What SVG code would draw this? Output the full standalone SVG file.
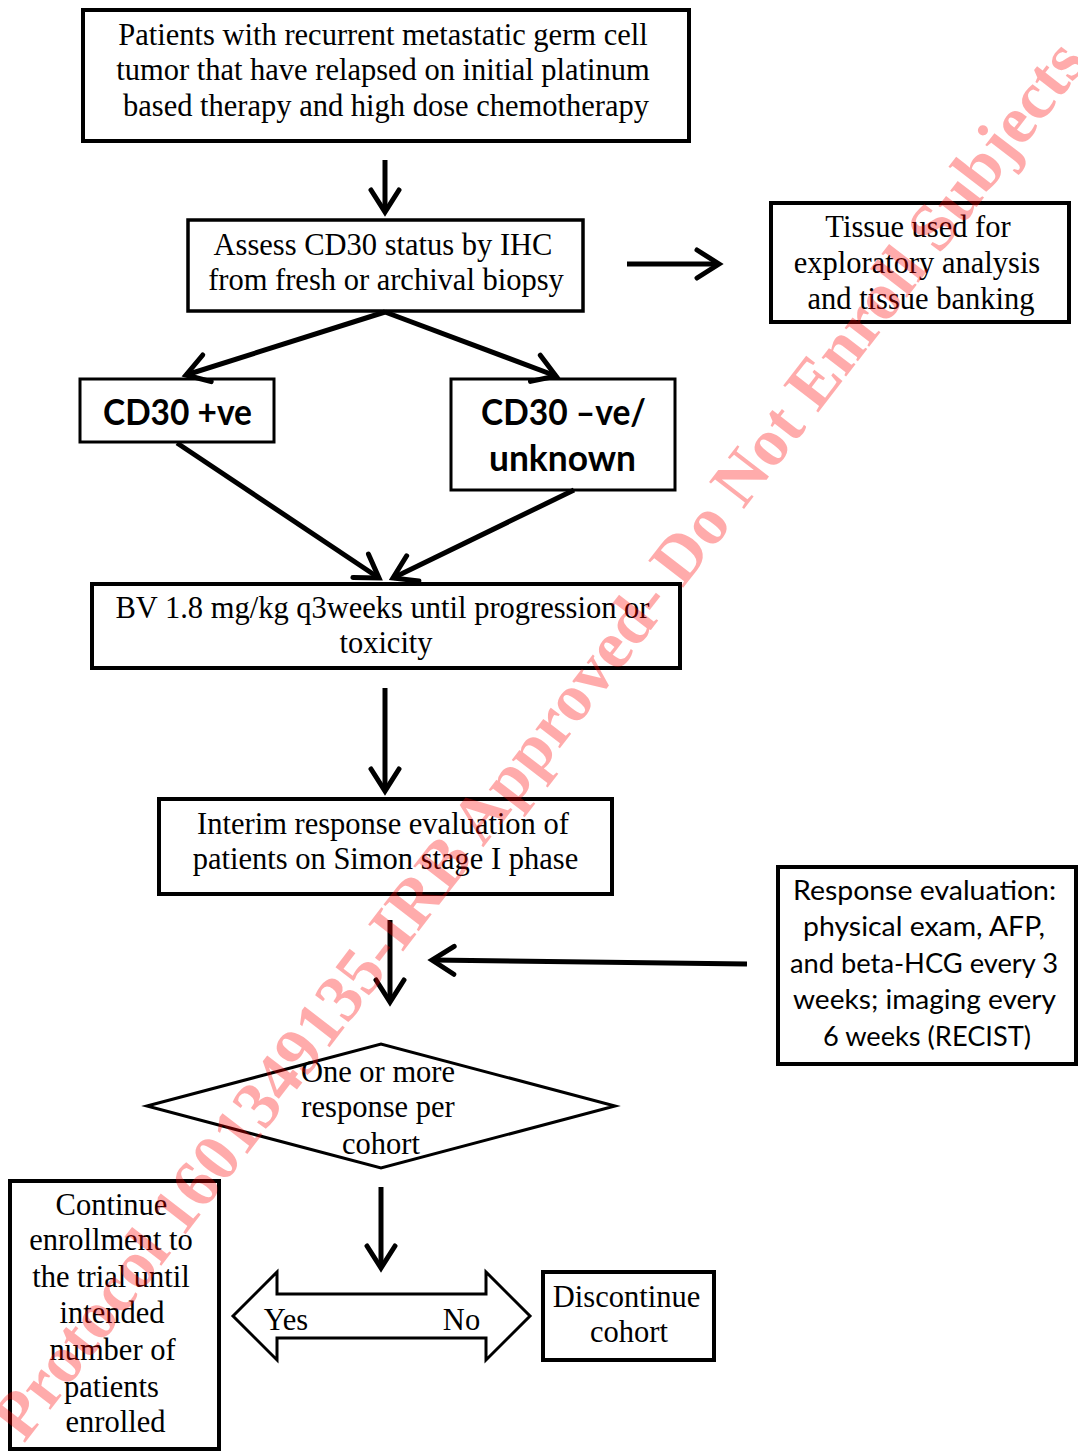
<svg xmlns="http://www.w3.org/2000/svg" width="1078" height="1452" viewBox="0 0 1078 1452">
<defs>
<style>
.box{fill:#fff;stroke:#000;stroke-width:4}
.t{font-family:"Liberation Serif","Times New Roman",serif;font-size:30.5px;fill:#000;text-anchor:middle}
.s{font-family:Lato,"Liberation Sans",sans-serif;font-size:26px;fill:#000;text-anchor:middle}
.b{font-family:Lato,"Liberation Sans",sans-serif;font-size:36px;font-weight:bold;fill:#000;text-anchor:middle}
.c{fill:none;stroke:#000;stroke-width:5;marker-end:url(#ah)}
.wm{font-family:"Liberation Serif","Times New Roman",serif;font-size:67.5px;font-weight:bold;fill:#ff0000;fill-opacity:0.33}
</style>
<marker id="ah" markerUnits="userSpaceOnUse" viewBox="-30 -20 36 40" markerWidth="36" markerHeight="40" refX="0" refY="0" orient="auto">
<path d="M-22,-14 L0,0 L-22,14" fill="none" stroke="#000" stroke-width="5" stroke-linecap="round" stroke-linejoin="miter"/>
</marker>
</defs>
<rect width="1078" height="1452" fill="#fff"/>

<g id="n1">
<rect class="box" x="83" y="10" width="606" height="131"/>
<text class="t" x="383" y="45">Patients with recurrent metastatic germ cell</text>
<text class="t" x="383" y="80">tumor that have relapsed on initial platinum</text>
<text class="t" x="386" y="116">based therapy and high dose chemotherapy</text>
</g>
<g id="n2">
<rect class="box" x="188" y="220" width="395" height="91" style="stroke-width:3.5"/>
<text class="t" x="383" y="255">Assess CD30 status by IHC</text>
<text class="t" x="386" y="290">from fresh or archival biopsy</text>
</g>
<g id="n3">
<rect class="box" x="771" y="203" width="298" height="119"/>
<text class="t" x="918" y="237">Tissue used for</text>
<text class="t" x="917" y="273">exploratory analysis</text>
<text class="t" x="921" y="309">and tissue banking</text>
</g>
<g id="n4">
<rect class="box" x="80" y="379" width="194" height="63" style="stroke-width:3"/>
<text class="b" x="177.5" y="425" textLength="149" lengthAdjust="spacingAndGlyphs">CD30 +ve</text>
</g>
<g id="n5">
<rect class="box" x="451" y="379" width="224" height="111" style="stroke-width:3"/>
<text class="b" x="563.5" y="425" textLength="165" lengthAdjust="spacingAndGlyphs">CD30 –ve/</text>
<text class="b" x="562.5" y="471" textLength="147" lengthAdjust="spacingAndGlyphs">unknown</text>
</g>
<g id="n6">
<rect class="box" x="92" y="584" width="588" height="84"/>
<text class="t" x="382.5" y="618">BV 1.8 mg/kg q3weeks until progression or</text>
<text class="t" x="386" y="653">toxicity</text>
</g>
<g id="n7">
<rect class="box" x="159" y="799" width="453" height="95"/>
<text class="t" x="383" y="834">Interim response evaluation of</text>
<text class="t" x="385.5" y="869">patients on Simon stage I phase</text>
</g>
<g id="n8">
<rect class="box" x="778" y="867" width="298" height="197"/>
<text class="s" x="924.5" y="900" textLength="263" lengthAdjust="spacingAndGlyphs">Response evaluation:</text>
<text class="s" x="924" y="936" textLength="242" lengthAdjust="spacingAndGlyphs">physical exam, AFP,</text>
<text class="s" x="924" y="973" textLength="268" lengthAdjust="spacingAndGlyphs">and beta-HCG every 3</text>
<text class="s" x="924.5" y="1009" textLength="263" lengthAdjust="spacingAndGlyphs">weeks; imaging every</text>
<text class="s" x="927" y="1046" textLength="208" lengthAdjust="spacingAndGlyphs">6 weeks (RECIST)</text>
</g>
<g id="n9">
<polygon points="147,1106 381,1044 615,1106 381,1168" fill="#fff" stroke="#000" stroke-width="3"/>
<text class="t" x="378" y="1082">One or more</text>
<text class="t" x="378" y="1117">response per</text>
<text class="t" x="381" y="1154">cohort</text>
</g>
<g id="n10">
<polygon points="233,1316 277,1272 277,1294 486,1294 486,1272 530,1316 486,1360 486,1338 277,1338 277,1360" fill="#fff" stroke="#000" stroke-width="3"/>
<text class="t" x="286" y="1330">Yes</text>
<text class="t" x="461.5" y="1330">No</text>
</g>
<g id="n11">
<rect class="box" x="10" y="1181" width="209" height="268"/>
<text class="t" x="111.5" y="1215">Continue</text>
<text class="t" x="111" y="1250">enrollment to</text>
<text class="t" x="111" y="1287">the trial until</text>
<text class="t" x="112" y="1323">intended</text>
<text class="t" x="112.5" y="1360">number of</text>
<text class="t" x="111.5" y="1397">patients</text>
<text class="t" x="115.5" y="1432">enrolled</text>
</g>
<g id="n12">
<rect class="box" x="543" y="1272" width="171" height="88"/>
<text class="t" x="626.5" y="1307">Discontinue</text>
<text class="t" x="629" y="1342">cohort</text>
</g>

<g id="connectors">
<path class="c" d="M385,160 L385,212"/>
<path class="c" d="M627,264 L719,264"/>
<path class="c" d="M385,312 L186,375"/>
<path class="c" d="M385,312 L556,376"/>
<path class="c" d="M177,443 L379,578"/>
<path class="c" d="M574,490 L393,578"/>
<path class="c" d="M385,688 L385,791"/>
<path class="c" d="M390,920 L390,1002"/>
<path class="c" d="M747,964 L432,960"/>
<path class="c" d="M381,1187 L381,1268"/>
</g>

<text class="wm" x="24" y="1444" transform="rotate(-52.4 24 1444)">Protocol 1601349135-IRB Approved- Do Not Enroll Subjects</text>
</svg>
